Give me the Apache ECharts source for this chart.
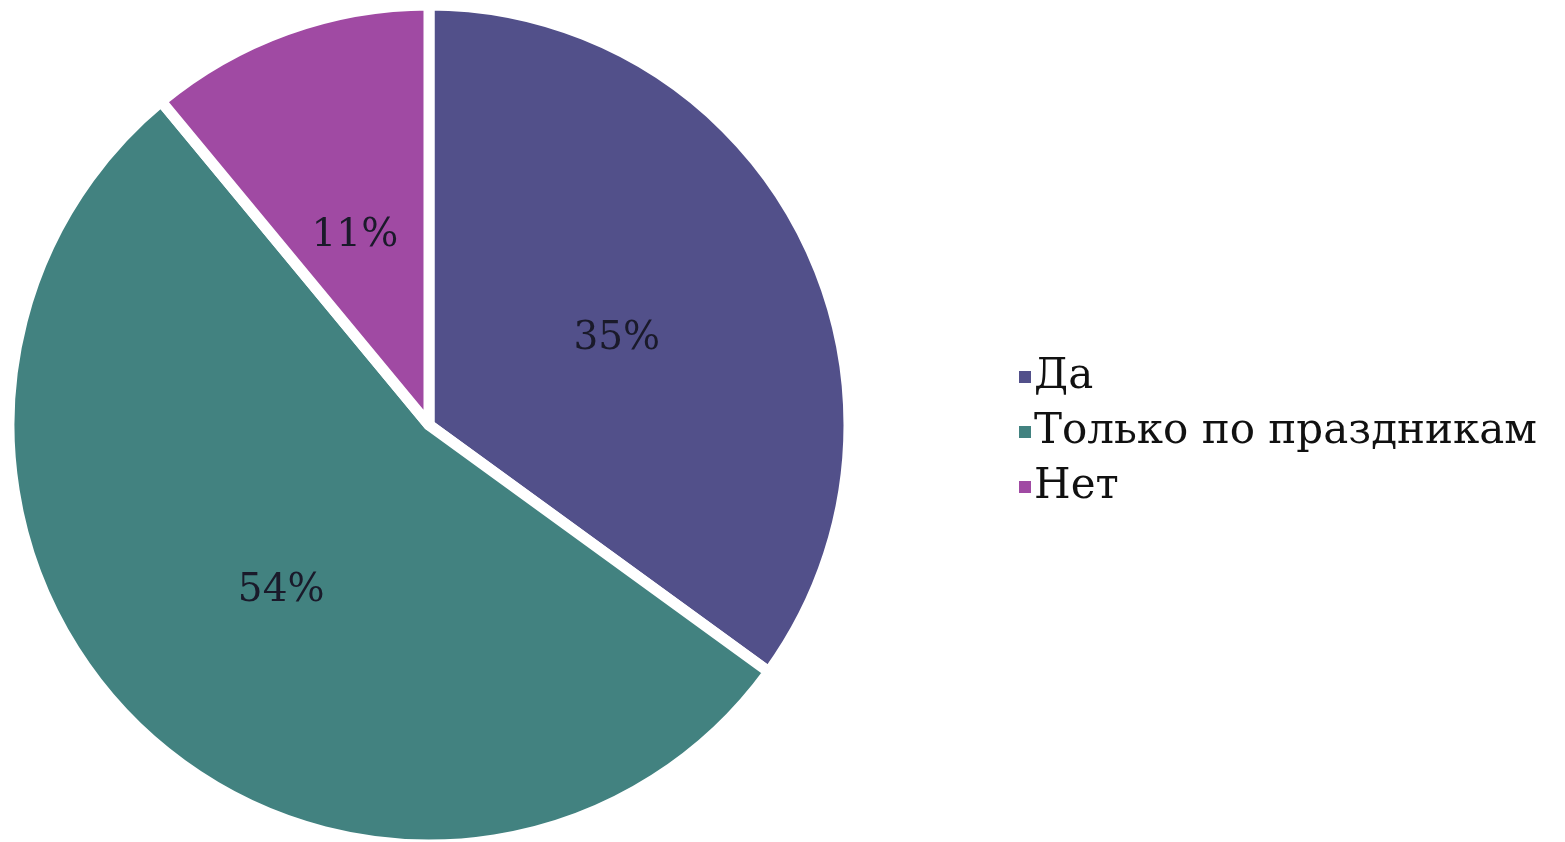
<!DOCTYPE html>
<html>
<head>
<meta charset="utf-8">
<script src="https://cdn.jsdelivr.net/npm/echarts@6/dist/echarts.min.js"></script>
<style>
  html, body { margin: 0; padding: 0; background: #fff; }
  #chart { width: 1565px; height: 842px; }
</style>
</head>
<body>
<div id="chart"></div>
<script>
// данные опроса
const categories = ['Да', 'Только по праздникам', 'Нет']
const values = [35, 54, 11]
const colors = ['#52508a', '#428280', '#a04aa3']

const myChart = echarts.init(document.getElementById('chart'))

myChart.setOption({
  animation: false,
  color: colors,
  legend: {
    orient: 'vertical',
    left: 1012,
    top: 350,
    icon: 'rect',
    itemWidth: 14,
    itemHeight: 14,
    itemGap: 11,
    textStyle: {
      fontFamily: 'DejaVu Serif',
      fontSize: 42,
      color: '#111',
      lineHeight: 44,
      padding: [0, 0, 0, -3]
    },
    data: categories
  },
  series: [
    {
      type: 'pie',
      center: [429, 425],
      radius: [0, 420],
      startAngle: 90,
      clockwise: true,
      itemStyle: {
        borderColor: '#fff',
        borderWidth: 11
      },
      label: {
        position: 'inside',
        formatter: '{d}%',
        fontFamily: 'DejaVu Serif',
        fontSize: 39,
        color: '#1a1a2a',
        offset: [-2, 11]
      },
      labelLine: { show: false },
      data: categories.map((name, i) => ({ name: name, value: values[i] }))
    }
  ]
})
</script>
</body>
</html>
